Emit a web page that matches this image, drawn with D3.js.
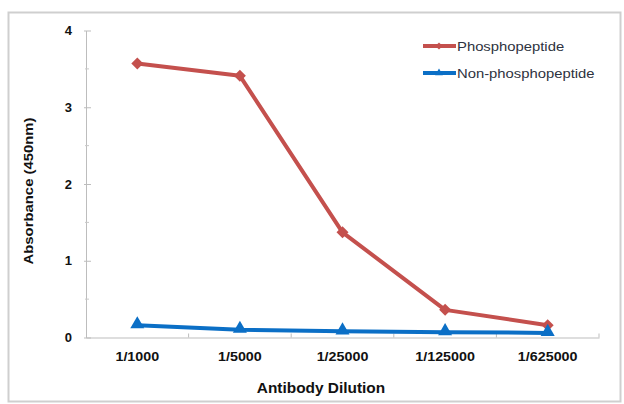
<!DOCTYPE html>
<html>
<head>
<meta charset="utf-8">
<script src="https://cdn.jsdelivr.net/npm/d3@7"></script>
<style>
  body { margin: 0; background: #fff; }
  text { font-family: "Liberation Sans", Arial, sans-serif; }
</style>
</head>
<body>
<svg id="chart" width="624" height="404"></svg>
<script>
// Values
const dilutions = ['1/1000', '1/5000', '1/25000', '1/125000', '1/625000'];
const phospho = [3.57, 3.41, 1.37, 0.36, 0.16];
const nonPhospho = [0.16, 0.10, 0.08, 0.07, 0.06];
const yTicks = [0, 1, 2, 3, 4];
const yMinorTicks = [0.5, 1.5, 2.5, 3.5];

const series = [
  { name: 'Phosphopeptide', values: phospho, color: '#c4504d', marker: 'diamond' },
  { name: 'Non-phosphopeptide', values: nonPhospho, color: '#0b6fc6', marker: 'triangle' }
];

const svg = d3.select('#chart');

// stretch text a little wider, the picture is slightly widened
const stretch = (sel, k) => sel.each(function () {
  const w = this.getComputedTextLength();
  d3.select(this).attr('textLength', w * k).attr('lengthAdjust', 'spacingAndGlyphs');
});

// frame
svg.append('rect')
  .attr('x', 8.5).attr('y', 12.5).attr('width', 612).attr('height', 389)
  .attr('fill', '#fff').attr('stroke', '#cfcfcf').attr('stroke-width', 2);

const x = d3.scaleBand().domain(dilutions).range([86, 599]);
const y = d3.scaleLinear().domain([0, 4]).range([337.5, 30.5]);
const cx = d => x(d) + x.bandwidth() / 2;

// y axis
const yAxis = svg.append('g')
  .attr('transform', 'translate(86,0)')
  .call(d3.axisLeft(y).tickValues(yTicks).tickSize(0).tickPadding(14).tickFormat(d3.format('d')));
yAxis.select('.domain').attr('stroke', '#bdbdbd');
yAxis.selectAll('.tick text')
  .attr('font-size', 13).attr('font-weight', 'bold').attr('fill', '#111');
yAxis.selectAll('.tick').append('line')
  .attr('x1', -2).attr('x2', 5).attr('stroke', '#bdbdbd');
yAxis.selectAll('.minor').data(yMinorTicks).enter().append('line')
  .attr('class', 'minor')
  .attr('x1', -1).attr('x2', 3)
  .attr('y1', d => y(d)).attr('y2', d => y(d))
  .attr('stroke', '#c8c8c8');

// x axis
const xAxis = svg.append('g')
  .attr('transform', `translate(0,${y(0)})`)
  .call(d3.axisBottom(x).tickSize(0).tickPadding(14).tickSizeOuter(0));
xAxis.select('.domain').attr('stroke', '#bdbdbd');
xAxis.selectAll('.tick text')
  .attr('font-size', 13).attr('font-weight', 'bold').attr('fill', '#111')
  .call(stretch, 1.1);
xAxis.selectAll('.bound').data(dilutions.slice(1).concat([null])).enter().append('line')
  .attr('class', 'bound')
  .attr('x1', d => d === null ? x.range()[1] : x(d))
  .attr('x2', d => d === null ? x.range()[1] : x(d))
  .attr('y1', 0).attr('y2', -4)
  .attr('stroke', '#bdbdbd');

// titles
svg.append('text')
  .attr('x', 321).attr('y', 393)
  .attr('text-anchor', 'middle')
  .attr('font-size', 14).attr('font-weight', 'bold').attr('fill', '#111')
  .text('Antibody Dilution')
  .call(stretch, 1.1);
svg.append('text')
  .attr('transform', 'translate(33,191) rotate(-90)')
  .attr('text-anchor', 'middle')
  .attr('font-size', 13.5).attr('font-weight', 'bold').attr('fill', '#111')
  .text('Absorbance (450nm)')
  .call(stretch, 1.1);

// lines and markers
const line = d3.line()
  .x((d, i) => cx(dilutions[i]))
  .y(d => y(d));
// diamond = square turned 45 degrees (wider than d3's symbolDiamond)
const markerPath = (m, size) => m === 'diamond'
  ? d3.symbol().type(d3.symbolSquare).size(size)()
  : d3.symbol().type(d3.symbolTriangle).size(size)();
const markerRot = m => m === 'diamond' ? ' rotate(45)' : '';

series.forEach(s => {
  svg.append('path')
    .datum(s.values)
    .attr('d', line)
    .attr('fill', 'none')
    .attr('stroke', s.color)
    .attr('stroke-width', 4)
    .attr('stroke-linejoin', 'round');
  svg.selectAll(null).data(s.values).enter().append('path')
    .attr('transform', (d, i) =>
      `translate(${cx(dilutions[i])},${y(d) + (s.marker === 'triangle' ? -1 : 0)})${markerRot(s.marker)}`)
    .attr('d', markerPath(s.marker, s.marker === 'diamond' ? 72 : 85))
    .attr('fill', s.color);
});

// legend
const legend = svg.append('g').selectAll('g').data(series).enter().append('g')
  .attr('transform', (d, i) => `translate(423,${46 + i * 27})`);
legend.append('line')
  .attr('x1', 0).attr('x2', 33)
  .attr('stroke', d => d.color).attr('stroke-width', 4);
legend.append('path')
  .attr('transform', d => `translate(16,0)${markerRot(d.marker)}`)
  .attr('d', d => markerPath(d.marker, 26))
  .attr('fill', d => d.color);
legend.append('text')
  .attr('x', 34).attr('y', 4.5)
  .attr('font-size', 13).attr('fill', '#2e3340')
  .text(d => d.name)
  .call(stretch, 1.14);
</script>
</body>
</html>
